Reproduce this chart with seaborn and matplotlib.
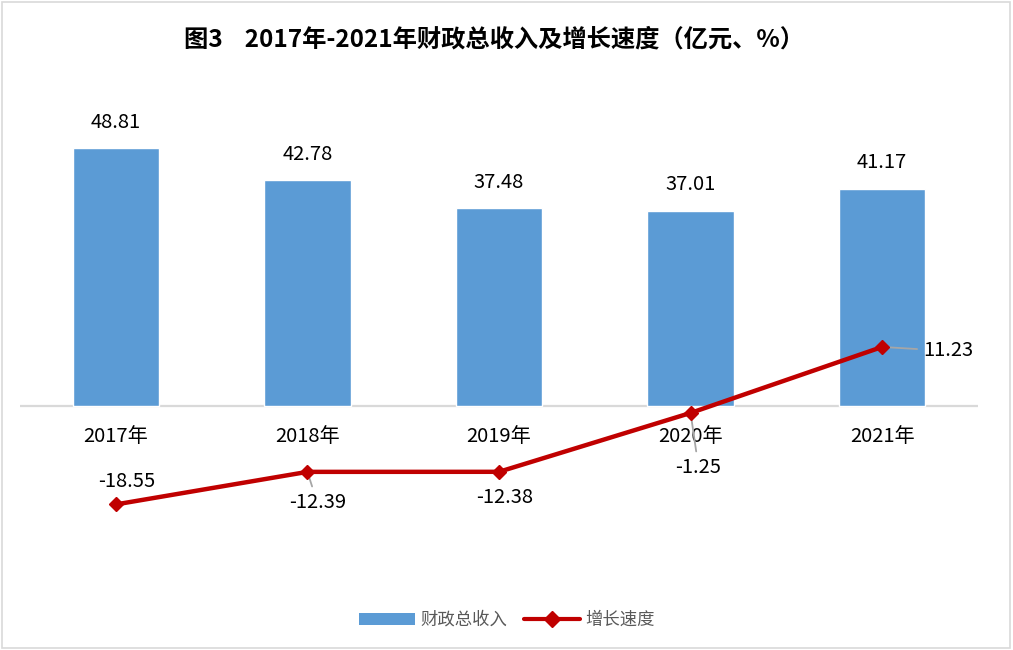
import numpy as np
import pandas as pd
import matplotlib
matplotlib.use('Agg')
import matplotlib.pyplot as plt
import seaborn as sns
from matplotlib.lines import Line2D
from matplotlib.patches import Patch

sns.set_style('white')
plt.rcParams['font.family'] = ['Noto Sans CJK SC', 'DejaVu Sans']

years = ['2017年', '2018年', '2019年', '2020年', '2021年']
revenue = [48.81, 42.78, 37.48, 37.01, 41.17]
growth = [-18.55, -12.39, -12.38, -1.25, 11.23]
title = '图3    2017年-2021年财政总收入及增长速度（亿元、%）'

bar_color = '#5B9BD5'
line_color = '#C00000'

df = pd.DataFrame({'year': years, 'revenue': revenue, 'growth': growth})
df['pos'] = np.arange(len(df))

fig = plt.figure(figsize=(10.13, 6.5), dpi=100)
ax = fig.add_axes([20 / 1013, 1 - 565 / 650, 958 / 1013, 476 / 650])

sns.barplot(data=df, x='year', y='revenue', color=bar_color, width=0.45,
            saturation=1, ax=ax, zorder=2)
ax.plot(df['pos'], df['growth'], color=line_color, lw=3.2, marker='D',
        markersize=7, zorder=4)

ax.set_xlim(-0.5, len(df) - 0.5)
ax.set_ylim(-30, 60)
for s in ax.spines.values():
    s.set_visible(False)
ax.axhline(0, color='#D9D9D9', lw=1.6, zorder=1)
ax.set_xticks([])
ax.set_yticks([])
ax.set_xlabel('')
ax.set_ylabel('')

fs = 14.5

# category labels sit right under the zero line
for i, y in enumerate(years):
    ax.annotate(y, (i, 0), xytext=(0, -30), textcoords='offset pixels',
                ha='center', va='center', fontsize=fs, color='black')

# bar value labels
for i, v in enumerate(revenue):
    ax.annotate(f'{v:.2f}', (i, v), xytext=(0, 26), textcoords='offset pixels',
                ha='center', va='center', fontsize=fs, color='black')

# line value labels
offsets = [(11, 23), (10, -31), (6, -26), (8, -55), (66, -4)]
leaders = [False, True, False, True, True]
for i, v in enumerate(growth):
    dx, dy = offsets[i]
    ap = None
    if leaders[i]:
        ap = dict(arrowstyle='-', color='#A6A6A6', lw=1.3, shrinkA=2, shrinkB=2)
    ax.annotate(f'{v:.2f}', (i, v), xytext=(dx, dy), textcoords='offset pixels',
                ha='center', va='center', fontsize=fs, color='black',
                arrowprops=ap, zorder=3)

fig.text(494 / 1013, 1 - 40 / 650, title, ha='center', va='center',
         fontsize=17.5, fontweight='bold', color='black')

handles = [Patch(facecolor=bar_color, edgecolor='none'),
           Line2D([0], [0], color=line_color, lw=3, marker='D', markersize=8)]
fig.legend(handles, ['财政总收入', '增长速度'], loc='center',
           bbox_to_anchor=(507 / 1013, 1 - 620 / 650), ncol=2, frameon=False,
           fontsize=12.5, labelcolor='#595959', handlelength=3.2,
           columnspacing=1.0, handletextpad=0.3)

fig.patches.append(plt.Rectangle((0.002, 0.003), 0.995, 0.994, fill=False,
                                 edgecolor='#D9D9D9', lw=1.2,
                                 transform=fig.transFigure))

fig.savefig('out.png', dpi=100)
